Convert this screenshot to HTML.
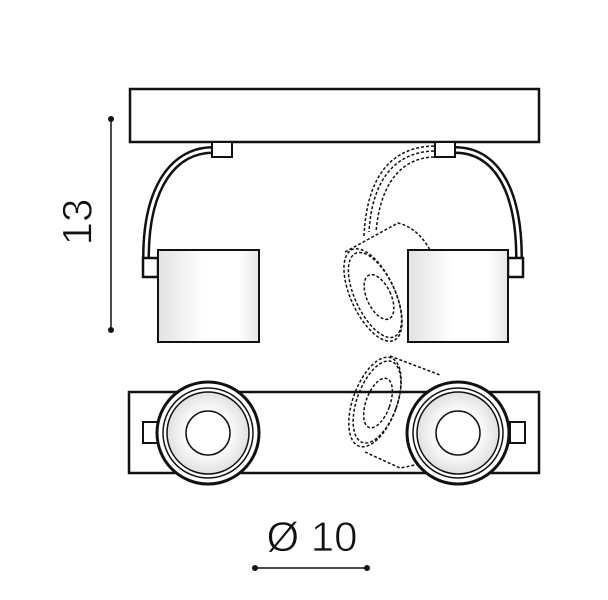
<!DOCTYPE html>
<html><head><style>body{margin:0;background:#fff}svg{display:block}</style></head>
<body>
<svg width="608" height="600" viewBox="0 0 608 600" xmlns="http://www.w3.org/2000/svg">
<defs>
<linearGradient id="g" x1="0" x2="1" y1="0" y2="0">
<stop offset="0" stop-color="#e2e2e2"/><stop offset="0.45" stop-color="#fff"/><stop offset="0.8" stop-color="#fff"/><stop offset="1" stop-color="#e6e6e6"/>
</linearGradient>
<radialGradient id="r"><stop offset="0.5" stop-color="#fff"/><stop offset="1" stop-color="#e0e0e0"/></radialGradient>
</defs>
<g stroke="#111" fill="none">
<rect x="130" y="89" width="409" height="53" stroke-width="2.5" fill="#fff"/>
<path d="M213 150 C175 150 146 185 146 258" stroke-width="8"/>
<path d="M213 150 C175 150 146 185 146 258" stroke-width="3" stroke="#fff"/>
<rect x="212" y="142" width="20" height="15" stroke-width="2" fill="#fff"/>
<rect x="143" y="258" width="15" height="19" stroke-width="2.5" fill="#fff"/>
<path d="M455 150 C493 150 519 185 519 258" stroke-width="8"/>
<path d="M455 150 C493 150 519 185 519 258" stroke-width="3" stroke="#fff"/>
<rect x="435" y="142" width="20" height="15" stroke-width="2" fill="#fff"/>
<rect x="508" y="258" width="15" height="19" stroke-width="2.5" fill="#fff"/>
<g stroke-dasharray="3,2" stroke-width="1.5">
<path d="M434 151 C395 152 372 180 369 232"/>
<path d="M434 157 C400 158 380 185 376 232"/>
<path d="M434 146 C392 147 367 175 364 236"/>
<path d="M345 252 L398 223 Q418 228 430 250"/>
<ellipse cx="373" cy="295" rx="22" ry="50" transform="rotate(-25 373 295)"/>
<ellipse cx="375" cy="295" rx="20" ry="46" transform="rotate(-25 375 295)"/>
<ellipse cx="379" cy="297" rx="12" ry="24" transform="rotate(-25 379 297)"/>
</g>
<rect x="158" y="250" width="101" height="92" stroke-width="2" fill="url(#g)"/>
<rect x="408" y="250" width="100" height="92" stroke-width="2" fill="url(#g)"/>
<rect x="129" y="392" width="410" height="81" stroke-width="2.5" fill="#fff"/>
<rect x="143" y="422" width="15" height="21" stroke-width="2" fill="#fff"/>
<rect x="510" y="422" width="15" height="21" stroke-width="2" fill="#fff"/>
<g stroke-dasharray="3,2" stroke-width="1.5">
<ellipse cx="375" cy="402" rx="22" ry="47" transform="rotate(20 375 402)"/>
<ellipse cx="377" cy="402" rx="20" ry="43" transform="rotate(20 377 402)"/>
<ellipse cx="378" cy="403" rx="12" ry="26" transform="rotate(20 378 403)"/>
<path d="M390 356 L440 375"/>
<path d="M365 452 L400 468 L430 462"/>
</g>
<g fill="#fff">
<circle cx="208" cy="433" r="51" stroke-width="3"/>
<circle cx="208" cy="433" r="45" stroke-width="1.5"/>
<circle cx="208" cy="433" r="41" stroke-width="1.5" fill="url(#r)"/>
<circle cx="208" cy="433" r="22" stroke-width="1.5" fill="#fff"/>
<circle cx="458" cy="433" r="51" stroke-width="3"/>
<circle cx="458" cy="433" r="45" stroke-width="1.5"/>
<circle cx="458" cy="433" r="41" stroke-width="1.5" fill="url(#r)"/>
<circle cx="458" cy="433" r="22" stroke-width="1.5" fill="#fff"/>
</g>
<line x1="111" y1="119" x2="111" y2="330" stroke-width="1.5"/>
<line x1="255" y1="568" x2="367" y2="568" stroke-width="1.5"/>
</g>
<g fill="#111">
<circle cx="111" cy="119" r="3"/><circle cx="111" cy="330" r="3"/>
<circle cx="255" cy="568" r="3"/><circle cx="367" cy="568" r="3"/>
</g>
<text x="77" y="222" transform="rotate(-90 77 222)" font-family="Liberation Sans, sans-serif" font-size="42" text-anchor="middle" dominant-baseline="central" fill="#111" stroke="#fff" stroke-width="0.8">13</text>
<text x="312" y="551" font-family="Liberation Sans, sans-serif" font-size="42" text-anchor="middle" fill="#111" stroke="#fff" stroke-width="0.8">Ø 10</text>
</svg>
</body></html>
